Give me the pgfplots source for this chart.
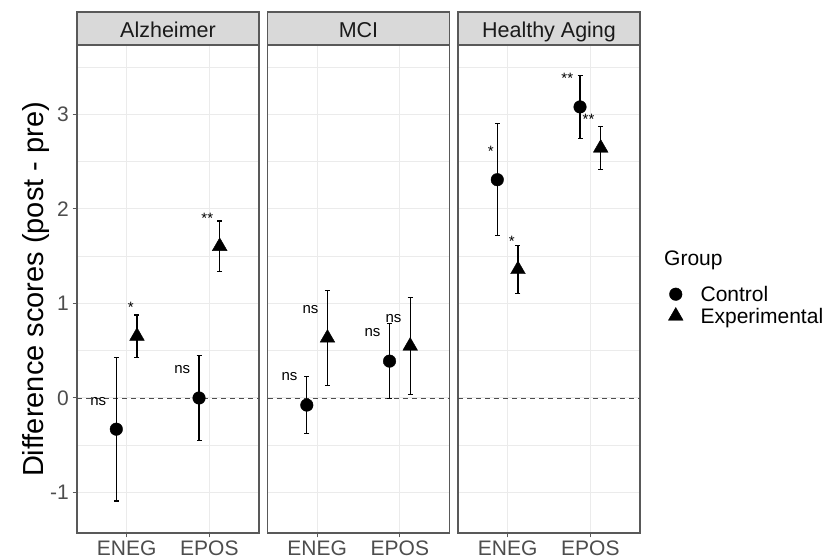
\documentclass[border=0pt]{standalone}
\usepackage{pgfplots}
\usepackage{pgfplotstable}
\pgfplotsset{compat=1.18}
\usepackage{fontspec}
\setmainfont{Liberation Sans}
\definecolor{g10}{HTML}{1A1A1A}
\definecolor{g20}{HTML}{595959}
\definecolor{g30}{HTML}{4D4D4D}
\definecolor{g85}{HTML}{D9D9D9}
\definecolor{g92}{HTML}{EBEBEB}
\newcommand{\fs}[1]{\fontsize{#1bp}{#1bp}\selectfont}

% x: ENEG=1, EPOS=2 ; Control dodged -0.125, Experimental +0.125
\pgfplotstableread{
x y e
0.875 -0.330 0.760
1.875 0.000 0.450
}\alzC
\pgfplotstableread{
x y e
1.125 0.654 0.224
2.125 1.605 0.268
}\alzE
\pgfplotstableread{
x y e
0.875 -0.075 0.305
1.875 0.390 0.400
}\mciC
\pgfplotstableread{
x y e
1.125 0.635 0.505
2.125 0.550 0.510
}\mciE
\pgfplotstableread{
x y e
0.875 2.310 0.595
1.875 3.080 0.330
}\haC
\pgfplotstableread{
x y e
1.125 1.360 0.250
2.125 2.645 0.225
}\haE

\pgfplotsset{
 panel/.style={
  scale only axis, width=182bp, height=488bp, anchor=south west,
  xmin=0.4, xmax=2.6, ymin=-1.4286, ymax=3.7354,
  xtick={1,2}, xticklabels={ENEG,EPOS},
  ytick={-1,0,1,2,3}, yticklabels={-1,0,1,2,3},
  minor ytick={-0.5,0.5,1.5,2.5,3.5},
  xmajorgrids=true, ymajorgrids=true, yminorgrids=true,
  major grid style={draw=g92, line width=1bp},
  minor grid style={draw=g92, line width=0.6bp},
  axis line style={draw=g20, line width=1.1bp},
  tick align=outside, xtick pos=bottom, ytick pos=left,
  major tick length=4.5bp, minor tick length=0pt,
  tick style={draw=g20, line width=1bp},
  ticklabel style={font=\fs{21}, text=g30},
  xticklabel style={inner sep=0pt, anchor=north, text height=15bp, text depth=0pt, yshift=-3bp},
  yticklabel style={inner sep=0pt, anchor=east, xshift=-3.5bp},
  clip=false,
 },
 inner/.style={yticklabels={}, ytick style={/pgfplots/major tick length=0pt}},
 ctrl/.style={only marks, mark=*, mark size=6.3bp, black,
   error bars/.cd, y dir=both, y explicit, error mark=-,
   error bar style={line width=1.1bp, black},
   error mark options={rotate=90, black, line width=1.1bp, mark size=2.5bp}},
 expt/.style={only marks, mark=triangle*, mark size=8.5bp, black,
   error bars/.cd, y dir=both, y explicit, error mark=-,
   error bar style={line width=1.1bp, black},
   error mark options={rotate=90, black, line width=1.1bp, mark size=2.5bp}},
 zero/.style={draw=g30, line width=0.9bp, dash pattern=on 5bp off 4bp, forget plot},
}
\tikzset{
 ast/.style={anchor=base, yshift=-8.6bp, font=\fs{15}, inner sep=0pt},
 nsl/.style={anchor=base, yshift=-3.9bp, font=\fs{15}, inner sep=0pt},
 strip/.style={draw=g20, line width=1.1bp, fill=g85},
 striptext/.style={anchor=base, font=\fs{21.5}, text=g10, inner sep=0pt},
}

\begin{document}
\begin{tikzpicture}
\useasboundingbox (0bp,0bp) rectangle (831bp,559bp);

% ---------- Alzheimer ----------
\begin{axis}[panel, at={(77bp,26bp)},
  ylabel={Difference scores (post - pre)},
  ylabel style={at={(axis description cs:-0.1868,0.499)}, anchor=base, font=\fs{29}, text=black, inner sep=0pt}]
\addplot[zero] coordinates {(0.4,0) (2.6,0)};
\addplot[ctrl] table[x=x, y=y, y error=e] {\alzC};
\addplot[expt] table[x=x, y=y, y error=e] {\alzE};
\node[nsl] at (axis cs:0.657,-0.04) {ns};
\node[ast] at (axis cs:1.049,0.995) {*};
\node[nsl] at (axis cs:1.673,0.296) {ns};
\node[ast] at (axis cs:1.975,1.937) {**};
\draw[strip] (rel axis cs:0,1) rectangle ([yshift=33bp]rel axis cs:1,1);
\node[striptext] at ([yshift=7.7bp]rel axis cs:0.5,1) {Alzheimer};
\end{axis}

% ---------- MCI ----------
\begin{axis}[panel, inner, at={(267.5bp,26bp)}]
\addplot[zero] coordinates {(0.4,0) (2.6,0)};
\addplot[ctrl] table[x=x, y=y, y error=e] {\mciC};
\addplot[expt] table[x=x, y=y, y error=e] {\mciE};
\node[nsl] at (axis cs:0.666,0.222) {ns};
\node[nsl] at (axis cs:0.920,0.940) {ns};
\node[nsl] at (axis cs:1.669,0.688) {ns};
\node[nsl] at (axis cs:1.923,0.836) {ns};
\draw[strip] (rel axis cs:0,1) rectangle ([yshift=33bp]rel axis cs:1,1);
\node[striptext] at ([yshift=7.7bp]rel axis cs:0.5,1) {MCI};
\end{axis}

% ---------- Healthy Aging ----------
\begin{axis}[panel, inner, at={(458bp,26bp)},
  legend style={draw=none, fill=none, at={(axis description cs:1.155,0.5047)}, anchor=north west,
    font=\fs{21}, cells={anchor=west}, row sep=0pt, inner sep=0pt,
    nodes={inner sep=0pt, text height=15bp, text depth=5.6bp}},
  legend image post style={yshift=3bp}]
\addplot[zero] coordinates {(0.4,0) (2.6,0)};
\addplot[ctrl] table[x=x, y=y, y error=e] {\haC};
\addlegendentry{\hspace*{17.5bp}Control}
\addplot[expt] table[x=x, y=y, y error=e] {\haE};
\addlegendentry{\hspace*{17.5bp}Experimental}
\node[ast] at (axis cs:0.795,2.642) {*};
\node[ast] at (axis cs:1.049,1.696) {*};
\node[ast] at (axis cs:1.721,3.418) {**};
\node[ast] at (axis cs:1.978,2.984) {**};
\draw[strip] (rel axis cs:0,1) rectangle ([yshift=33bp]rel axis cs:1,1);
\node[striptext] at ([yshift=7.7bp]rel axis cs:0.5,1) {Healthy Aging};
\end{axis}

\node[anchor=base west, font=\fs{21}, inner sep=0pt] at (664bp,293.3bp) {Group};
\end{tikzpicture}
\end{document}
